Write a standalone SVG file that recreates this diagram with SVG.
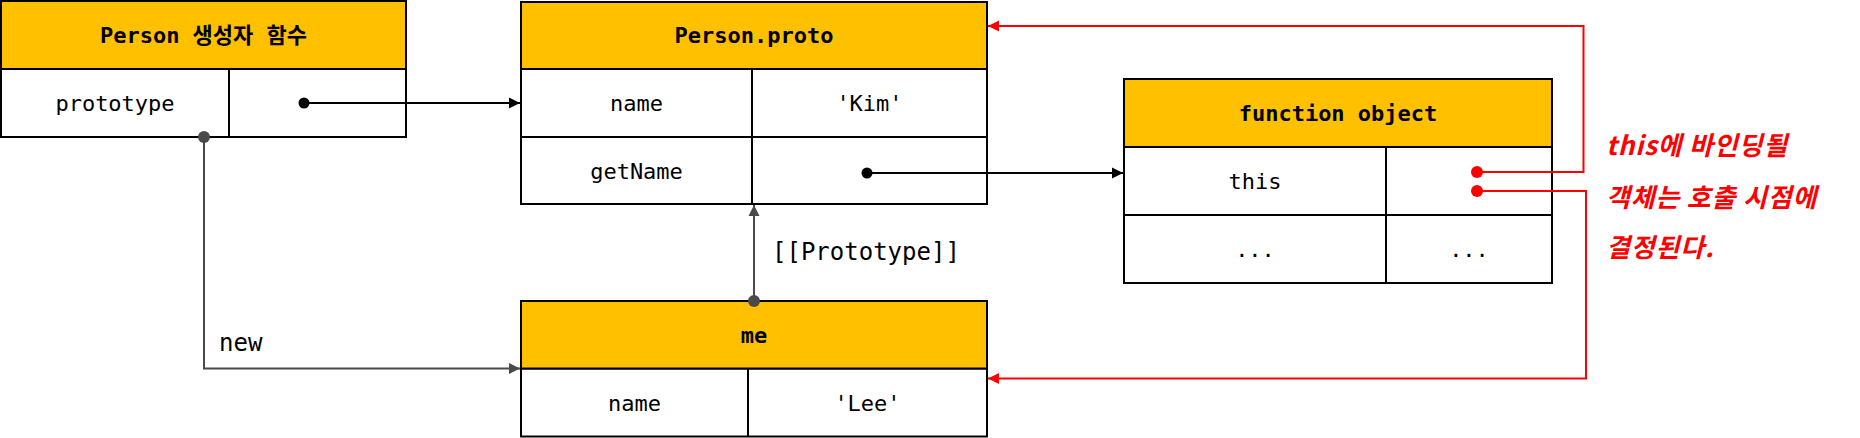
<svg xmlns="http://www.w3.org/2000/svg" width="1860" height="438" viewBox="0 0 1860 438">
<style>
.hdr{fill:#FFC000;stroke:#000;stroke-width:2}
.cell{fill:#fff;stroke:#000;stroke-width:2}
.ln{stroke:#000;stroke-width:2;fill:none}
.t{font-family:"DejaVu Sans Mono","Noto Sans CJK KR",monospace;font-size:22px;fill:#000;text-anchor:middle}
.b{font-weight:bold}
.lbl{font-family:"DejaVu Sans Mono","Noto Sans CJK KR",monospace;font-size:24px;fill:#000}
.note{font-family:"Noto Sans CJK KR","Noto Sans",sans-serif;font-size:26px;font-weight:bold;font-style:italic;letter-spacing:0.8px;fill:#ff0000}
.cb{stroke:#000;stroke-width:2;fill:none}
.cg{stroke:#4a4a4a;stroke-width:2;fill:none}
.cr{stroke:#ff0000;stroke-width:2;fill:none}
</style>
<defs>
<marker id="ab" markerUnits="userSpaceOnUse" markerWidth="12" markerHeight="12" refX="11" refY="6" orient="auto"><path d="M0,0.5 L11,6 L0,11.5 z" fill="#000"/></marker>
<marker id="ag" markerUnits="userSpaceOnUse" markerWidth="12" markerHeight="12" refX="11" refY="6" orient="auto"><path d="M0,0.5 L11,6 L0,11.5 z" fill="#4a4a4a"/></marker>
<marker id="ar" markerUnits="userSpaceOnUse" markerWidth="12" markerHeight="12" refX="11" refY="6" orient="auto"><path d="M0,0.5 L11,6 L0,11.5 z" fill="#ff0000"/></marker>
</defs>

<g id="person">
<rect class="cell" x="1" y="69" width="405" height="68"/>
<rect class="hdr" x="1" y="1" width="405" height="68"/>
<line class="ln" x1="229" y1="69" x2="229" y2="137"/>
<text class="t b" x="203.5" y="43">Person 생성자 함수</text>
<text class="t" x="115" y="111">prototype</text>
</g>

<g id="person-proto">
<rect class="cell" x="521" y="69" width="466" height="135"/>
<rect class="hdr" x="521" y="2" width="466" height="67"/>
<line class="ln" x1="521" y1="137" x2="987" y2="137"/>
<line class="ln" x1="752" y1="69" x2="752" y2="204"/>
<text class="t b" x="754" y="43">Person.proto</text>
<text class="t" x="636.5" y="111">name</text>
<text class="t" x="869.5" y="111">'Kim'</text>
<text class="t" x="636.5" y="179">getName</text>
</g>

<g id="function-object">
<rect class="cell" x="1124" y="147" width="428" height="136"/>
<rect class="hdr" x="1124" y="79" width="428" height="68"/>
<line class="ln" x1="1124" y1="215" x2="1552" y2="215"/>
<line class="ln" x1="1386" y1="147" x2="1386" y2="283"/>
<text class="t b" x="1338" y="121">function object</text>
<text class="t" x="1255" y="189">this</text>
<text class="t" x="1255" y="257">...</text>
<text class="t" x="1469" y="257">...</text>
</g>

<g id="me">
<rect class="cell" x="521" y="368.5" width="466" height="68"/>
<rect class="hdr" x="521" y="301" width="466" height="67.5"/>
<line class="ln" x1="748" y1="368.5" x2="748" y2="436.5"/>
<text class="t b" x="754" y="343">me</text>
<text class="t" x="634.5" y="411">name</text>
<text class="t" x="867.5" y="411">'Lee'</text>
</g>

<g id="connectors">
<path class="cb" d="M304,103 H520" marker-end="url(#ab)"/>
<circle cx="304" cy="103" r="5.5" fill="#000"/>
<path class="cb" d="M867,173 H1123" marker-end="url(#ab)"/>
<circle cx="867" cy="173" r="5.5" fill="#000"/>
<path class="cg" d="M204,137 V368.5 H520" marker-end="url(#ag)"/>
<circle cx="204" cy="137" r="6" fill="#4a4a4a"/>
<path class="cg" d="M754,301 V205" marker-end="url(#ag)"/>
<circle cx="754" cy="301" r="6" fill="#4a4a4a"/>
<path class="cr" d="M1477,172 H1583.5 V26 H988" marker-end="url(#ar)"/>
<circle cx="1477" cy="172" r="6" fill="#ff0000"/>
<path class="cr" d="M1477,191 H1586 V378.5 H988" marker-end="url(#ar)"/>
<circle cx="1477" cy="191" r="6" fill="#ff0000"/>
<text class="lbl" x="772" y="260">[[Prototype]]</text>
<text class="lbl" x="219" y="351">new</text>
</g>

<g id="note">
<text class="note" x="1606" y="155">this에 바인딩될</text>
<text class="note" x="1606" y="207">객체는 호출 시점에</text>
<text class="note" x="1606" y="257">결정된다.</text>
</g>
</svg>
